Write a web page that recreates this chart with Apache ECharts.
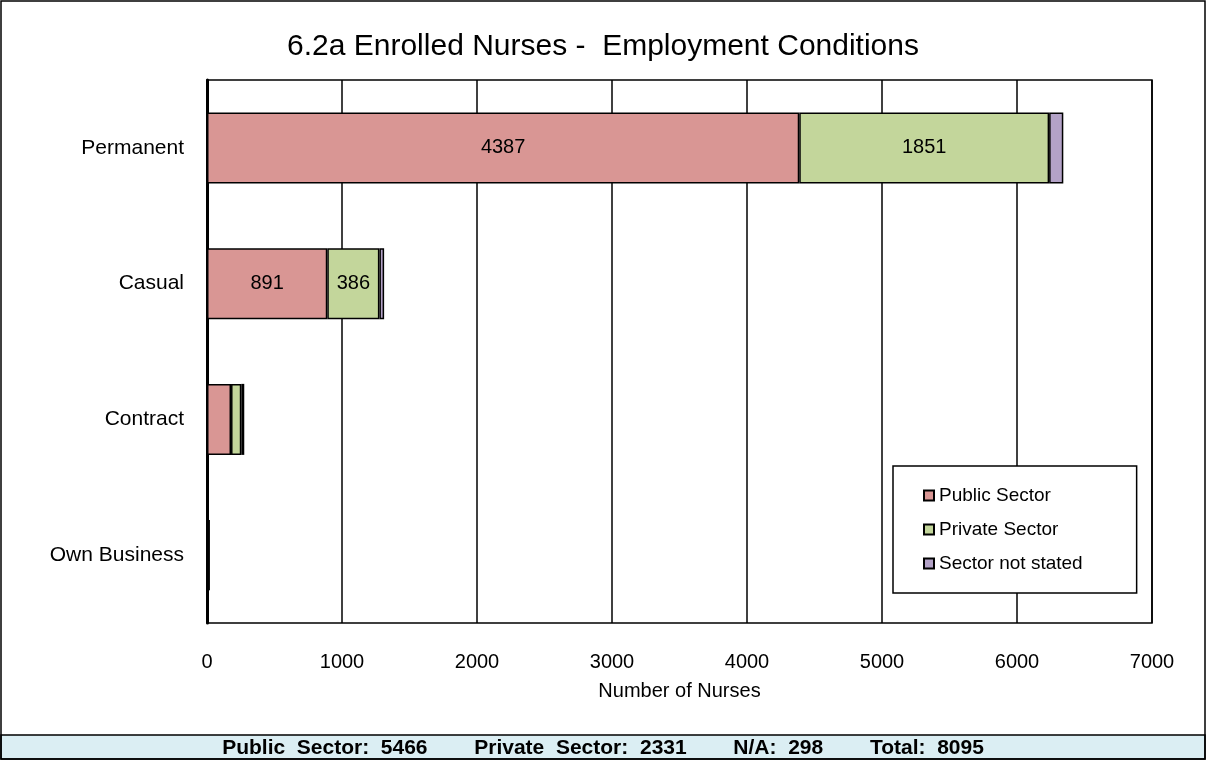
<!DOCTYPE html>
<html>
<head>
    <title>6.2a Enrolled Nurses - Employment Conditions</title>
    <meta charset="utf-8" />
    <script src="https://cdn.jsdelivr.net/npm/echarts@6/dist/echarts.min.js"></script>
    <style type="text/css">
        html,
        body {
            width: 100%;
            height: 100%;
            margin: 0;
        }

        #main {
            width: 1206px;
            height: 760px;
        }
    </style>
</head>

<body>
    <div id="main"></div>
    <script>
        var categories = ['Permanent', 'Casual', 'Contract', 'Own Business'];
        var publicSector = [4387, 891, 178, 8];
        var privateSector = [1851, 386, 76, 6];
        var notStated = [105, 35, 22, 4];
        var xTicks = [0, 1000, 2000, 3000, 4000, 5000, 6000, 7000];
        var totals = { publicSector: 5466, privateSector: 2331, na: 298, total: 8095 };

        var font = '"Liberation Sans", Arial, sans-serif';

        // only the two big rows carry labels in the original
        function withLabels(values, labelled) {
            return values.map(function (v, i) {
                return {
                    value: v,
                    label: { show: labelled.indexOf(i) >= 0 }
                };
            });
        }

        function barSeries(name, color, data) {
            return {
                name: name,
                type: 'bar',
                stack: 'all',
                barWidth: 71,
                data: data,
                itemStyle: { color: color, borderColor: '#000', borderWidth: 1.5 },
                label: {
                    show: false,
                    position: 'inside',
                    color: '#000',
                    fontSize: 20,
                    fontFamily: font
                }
            };
        }

        var myChart = echarts.init(document.getElementById('main'));
        var option = {
            backgroundColor: '#fff',
            animation: false,
            title: {
                text: '6.2a Enrolled Nurses -  Employment Conditions',
                left: 'center',
                top: 27,
                textStyle: { fontSize: 30, fontWeight: 'normal', color: '#000', fontFamily: font }
            },
            grid: { left: 207, right: 54, top: 80, bottom: 137, show: true, borderColor: '#000', borderWidth: 1.5 },
            legend: {
                orient: 'vertical',
                left: 893,
                top: 466,
                icon: 'rect',
                itemWidth: 10,
                itemHeight: 10,
                itemGap: 15,
                padding: [20, 54, 20, 30],
                borderColor: '#000',
                borderWidth: 1.5,
                backgroundColor: '#fff',
                textStyle: { fontSize: 19, color: '#000', fontFamily: font },
                data: ['Public Sector', 'Private Sector', 'Sector not stated']
            },
            xAxis: {
                type: 'value',
                min: xTicks[0],
                max: xTicks[xTicks.length - 1],
                interval: 1000,
                name: 'Number of Nurses',
                nameLocation: 'middle',
                nameGap: 58,
                nameTextStyle: { fontSize: 20, color: '#000', fontFamily: font },
                axisLine: { show: false },
                axisTick: { show: false },
                axisLabel: {
                    fontSize: 20, color: '#000', margin: 29, fontFamily: font,
                    formatter: function (v) { return String(v); }
                },
                splitLine: { lineStyle: { color: '#000', width: 1.5 } }
            },
            yAxis: {
                type: 'category',
                inverse: true,
                data: categories,
                axisLine: { lineStyle: { color: '#000', width: 3 } },
                axisTick: { show: false },
                axisLabel: { fontSize: 21, color: '#000', margin: 23, fontFamily: font }
            },
            series: [
                barSeries('Public Sector', '#D99694', withLabels(publicSector, [0, 1])),
                barSeries('Private Sector', '#C3D69B', withLabels(privateSector, [0, 1])),
                barSeries('Sector not stated', '#B3A2C7', withLabels(notStated, []))
            ],
            graphic: [
                {
                    type: 'rect',
                    shape: { x: 1, y: 735, width: 1204, height: 24 },
                    style: { fill: '#DBEEF3', stroke: '#000', lineWidth: 1.5 }
                },
                {
                    type: 'rect',
                    shape: { x: 1, y: 1, width: 1204, height: 758 },
                    style: { fill: null, stroke: '#000', lineWidth: 1.5 }
                },
                {
                    type: 'text',
                    x: 603,
                    y: 748,
                    style: {
                        text: 'Public  Sector:  ' + totals.publicSector + '        Private  Sector:  ' + totals.privateSector +
                            '        N/A:  ' + totals.na + '        Total:  ' + totals.total,
                        font: 'bold 21px ' + font,
                        fill: '#000',
                        align: 'center',
                        verticalAlign: 'middle'
                    }
                }
            ]
        };
        myChart.setOption(option);
    </script>
</body>
</html>
